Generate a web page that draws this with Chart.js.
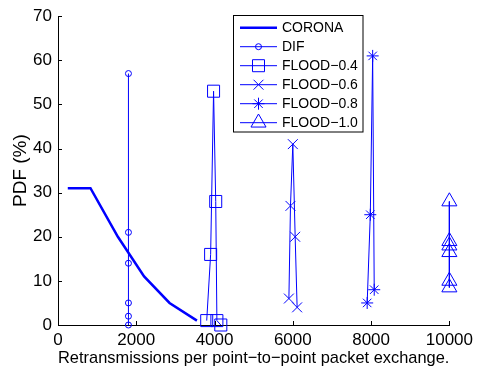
<!DOCTYPE html>
<html>
<head>
<meta charset="utf-8">
<script src="https://cdn.jsdelivr.net/npm/chart.js@4.4.1/dist/chart.umd.min.js"></script>
<style>
  html, body { margin: 0; padding: 0; background: #fff; }
  #wrap { width: 478px; height: 371px; }
</style>
</head>
<body>
<div id="wrap"><canvas id="pdfChart" width="478" height="371"></canvas></div>
<script>
// Dados
const seriesNames = ['CORONA', 'DIF', 'FLOOD\u22120.4', 'FLOOD\u22120.6', 'FLOOD\u22120.8', 'FLOOD\u22121.0'];

const coronaX = [250, 830, 1530, 2200, 2850, 3550];
const coronaY = [31, 31, 20, 11, 5, 1];

const difX = [1800, 1800, 1800, 1800, 1800, 1800];
const difY = [0, 2, 5, 14, 21, 57];

const flood04X = [3800, 3900, 3975, 4030, 4060, 4160];
const flood04Y = [1, 16, 53, 28, 1, 0];

const flood06X = [5900, 5940, 6000, 6060, 6110];
const flood06Y = [6, 27, 41, 20, 4];

const flood08X = [7900, 7980, 8040, 8080];
const flood08Y = [5, 25, 61, 8];

const flood10X = [10000, 10000, 10000, 10000, 10000, 10000];
const flood10Y = [28, 19, 18, 16.5, 10, 8.5];

const xTicks = [0, 2000, 4000, 6000, 8000, 10000];
const yTicks = [0, 10, 20, 30, 40, 50, 60, 70];

const BLUE = '#0000ff';
const FONT = '"Liberation Sans", Arial, Helvetica, sans-serif';

const toPoints = (xs, ys) => xs.map((x, i) => ({ x: x, y: ys[i] }));

const markers = [
    { style: false, radius: 0, width: 2.5 },
    { style: 'circle', radius: 3, width: 1 },
    { style: 'rect', radius: 8.5, width: 1 },
    { style: 'crossRot', radius: 7, width: 1 },
    { style: 'star', radius: 6, width: 1 },
    { style: 'triangle', radius: 8.7, width: 1 }
];

const allX = [coronaX, difX, flood04X, flood06X, flood08X, flood10X];
const allY = [coronaY, difY, flood04Y, flood06Y, flood08Y, flood10Y];

const datasets = seriesNames.map((name, i) => ({
    label: name,
    data: toPoints(allX[i], allY[i]),
    showLine: true,
    clip: false,
    borderColor: BLUE,
    backgroundColor: 'rgba(0,0,0,0)',
    borderWidth: markers[i].width,
    pointStyle: markers[i].style,
    pointRadius: markers[i].radius,
    pointBorderColor: BLUE,
    pointBackgroundColor: 'rgba(0,0,0,0)',
    pointBorderWidth: 1,
    tension: 0
}));

// ticks para dentro, estilo MATLAB
const innerTicks = {
    id: 'innerTicks',
    afterDraw(chart) {
        const ctx = chart.ctx;
        const xs = chart.scales.x, ys = chart.scales.y;
        const area = chart.chartArea;
        ctx.save();
        ctx.strokeStyle = '#000';
        ctx.lineWidth = 1;
        ctx.beginPath();
        xTicks.forEach(v => {
            const px = Math.round(xs.getPixelForValue(v)) + 0.5;
            ctx.moveTo(px, area.bottom);
            ctx.lineTo(px, area.bottom - 4);
        });
        yTicks.forEach(v => {
            const py = Math.round(ys.getPixelForValue(v)) + 0.5;
            ctx.moveTo(area.left, py);
            ctx.lineTo(area.left + 4, py);
        });
        ctx.stroke();
        ctx.restore();
    }
};

// legenda desenhada à mão
const boxLegend = {
    id: 'boxLegend',
    afterDraw(chart) {
        const ctx = chart.ctx;
        const left = 233.5, top = 15.5, right = 363, bottom = 132;
        ctx.save();
        ctx.fillStyle = '#fff';
        ctx.fillRect(left, top, right - left, bottom - top);
        ctx.strokeStyle = '#000';
        ctx.lineWidth = 1;
        ctx.strokeRect(left, top, right - left, bottom - top);
        seriesNames.forEach((name, i) => {
            const y = 27.7 + i * 19;
            ctx.strokeStyle = BLUE;
            ctx.lineWidth = markers[i].width;
            ctx.beginPath();
            ctx.moveTo(240, y);
            ctx.lineTo(277, y);
            ctx.stroke();
            if (markers[i].style && Chart.helpers && Chart.helpers.drawPoint) {
                ctx.lineWidth = 1;
                ctx.fillStyle = 'rgba(0,0,0,0)';
                Chart.helpers.drawPoint(ctx, {
                    pointStyle: markers[i].style,
                    radius: markers[i].radius,
                    rotation: 0,
                    borderWidth: 1
                }, 258.5, y);
            }
            ctx.fillStyle = '#000';
            ctx.font = '14px ' + FONT;
            ctx.textBaseline = 'middle';
            ctx.textAlign = 'left';
            ctx.fillText(name, 282, y + 0.5);
        });
        ctx.restore();
    }
};

new Chart(document.getElementById('pdfChart').getContext('2d'), {
    type: 'scatter',
    data: { datasets: datasets },
    plugins: [innerTicks, boxLegend],
    options: {
        responsive: false,
        animation: false,
        events: [],
        layout: { padding: { top: 13, right: 25, left: 0, bottom: 0 } },
        plugins: { legend: { display: false }, tooltip: { enabled: false } },
        scales: {
            x: {
                type: 'linear',
                min: 0,
                max: 10000,
                afterFit: s => { s.height = 46; },
                afterBuildTicks: s => { s.ticks = xTicks.map(v => ({ value: v })); },
                grid: { drawOnChartArea: false, drawTicks: false },
                border: { display: true, color: '#000', width: 1 },
                ticks: {
                    color: '#000',
                    padding: 5,
                    maxRotation: 0,
                    font: { family: FONT, size: 17 },
                    callback: v => String(v)
                },
                title: {
                    display: true,
                    text: 'Retransmissions per point\u2212to\u2212point packet exchange.',
                    color: '#000',
                    font: { family: FONT, size: 17 },
                    padding: { top: 0, bottom: 2.5 }
                }
            },
            y: {
                type: 'linear',
                min: 0,
                max: 70,
                afterFit: s => { s.width = 58; },
                afterBuildTicks: s => { s.ticks = yTicks.map(v => ({ value: v })); },
                grid: { drawOnChartArea: false, drawTicks: false },
                border: { display: true, color: '#000', width: 1 },
                ticks: {
                    color: '#000',
                    padding: 6,
                    font: { family: FONT, size: 17 },
                    callback: v => String(v)
                },
                title: {
                    display: true,
                    text: 'PDF (%)',
                    color: '#000',
                    font: { family: FONT, size: 19 },
                    padding: { top: 9, bottom: 0 }
                }
            }
        }
    }
});
</script>
</body>
</html>
